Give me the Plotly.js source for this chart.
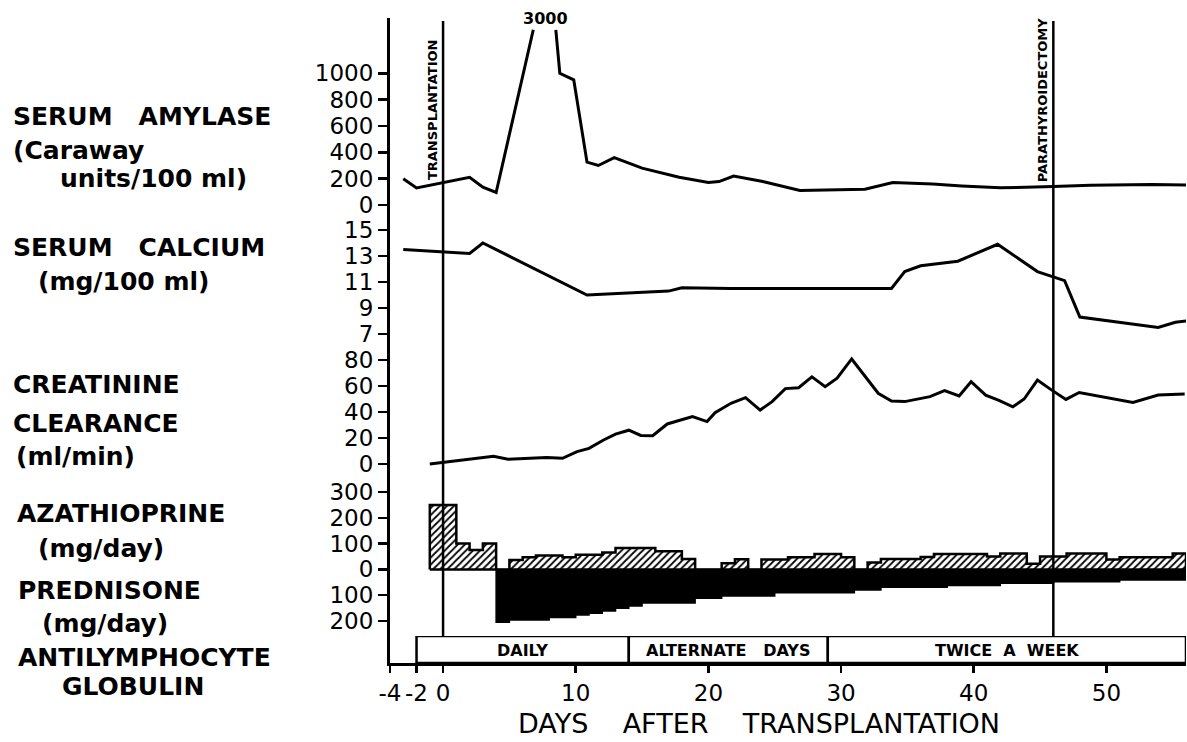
<!DOCTYPE html>
<html><head><meta charset="utf-8">
<script src="https://cdn.plot.ly/plotly-3.0.1.min.js"></script>
<style>html,body{margin:0;padding:0;background:#fff}#chart{width:1187px;height:742px}</style>
</head><body><div id="chart"></div>
<script>
// ---------------- DATA ----------------
// Serum amylase (Caraway units/100 ml); the scale is broken at the peak (3000)
const amyDay   = [-3, -2, 2, 3, 4, 6.8, 7.7, 8.5, 8.8, 9.85, 10.85, 11.7, 12.9, 15, 17.8, 20, 20.8, 21.9, 24.1, 26.9, 31.8, 33.9, 36.9, 39.1, 42, 46, 48.8, 53.4, 56];
const amyValue = [200, 130, 210, 135, 95, 1330, null, 1330, 1000, 950, 325, 300, 360, 280, 210, 170, 178, 220, 178, 110, 120, 170, 160, 145, 130, 140, 150, 155, 152];
const amyPeakDay = 7.7;
const amyPeakText = '3000';
const amyTicks = [0, 200, 400, 600, 800, 1000];

// Serum calcium (mg/100 ml)
const calDay   = [-3, 0, 2, 3, 10.85, 17, 18, 21.7, 33.8, 34.8, 36, 38.8, 41.8, 44.8, 46.85, 48, 51, 53.9, 55.2, 56];
const calValue = [13.5, 13.3, 13.2, 14.0, 10.0, 10.3, 10.55, 10.5, 10.5, 11.8, 12.25, 12.6, 13.9, 11.8, 11.1, 8.3, 7.9, 7.5, 7.9, 8.0];
const calTicks = [7, 9, 11, 13, 15];

// Creatinine clearance (ml/min)
const creDay   = [-1, 3.8, 4.9, 7.8, 9, 10.1, 11, 12.1, 13, 14, 14.9, 15.8, 16.9, 18.8, 19.9, 20.5, 21.7, 22.8, 23.9, 24.8, 25.8, 26.8, 27.8, 28.8, 29.7, 30.8, 32.8, 33.8, 34.8, 36.7, 37.8, 38.9, 39.8, 40.9, 41.9, 42.95, 43.8, 44.8, 45.8, 46.95, 47.95, 52, 53.9, 55.9];
const creValue = [0, 6, 3.6, 5, 4.4, 9.5, 12, 18.5, 23, 26, 22, 21.8, 30.8, 36.4, 32.6, 39.5, 46.7, 51, 41.5, 48, 58, 58.7, 67, 59.5, 66, 80.8, 54.4, 48.5, 48, 51.8, 56.4, 52.3, 63.3, 53, 49, 44, 50, 64.6, 57.4, 49.7, 55, 47.4, 53, 53.8];
const creTicks = [0, 20, 40, 60, 80];

// Azathioprine (mg/day), step starts
const azaStart = [-1, 1, 2, 3, 4, 5, 6, 7, 9, 10, 12, 13, 16, 18, 19, 21, 22, 23, 24, 26, 28, 30, 31, 32, 33, 36, 37, 41, 42, 44, 45, 47, 50, 51, 55];
const azaDose  = [250, 100, 75, 100, 0, 36, 47, 54, 47, 57, 66, 83, 70, 40, 0, 24, 39, 0, 38, 47, 60, 47, 0, 27, 40, 48, 60, 50, 62, 22, 50, 62, 38, 47, 62];
const azaEnd = 56;

// Prednisone (mg/day), step starts
const predStart = [4, 5, 8, 10, 11, 12, 13, 14, 15, 19, 21, 25, 31, 33, 38, 42, 46, 51];
const predDose  = [205, 196, 186, 177, 170, 161, 151, 142, 130, 112, 103, 90, 80, 69, 62, 54, 48, 41];
const predEnd = 56;
const drugTickVals = [-200, -100, 0, 100, 200, 300];
const drugTickText = ['200', '100', '0', '100', '200', '300'];

// Antilymphocyte globulin schedule
const algStart = [-2, 14, 29];
const algEnd   = [14, 29, 56];
const algLabel = ['DAILY', 'ALTERNATE\u00a0\u00a0\u00a0DAYS', 'TWICE\u00a0\u00a0A\u00a0\u00a0WEEK'];

// Events
const eventDay   = [0, 46];
const eventLabel = ['TRANSPLANTATION', 'PARATHYROIDECTOMY'];

// Day axis
const dayTickVals = [-4, -2, 0, 10, 20, 30, 40, 50];
const dayTickText = ['-4', '-2', '0', '10', '20', '30', '40', '50'];

// ---------------- LAYOUT HELPERS ----------------
const FIG_W = 1187, FIG_H = 742;
const L = 390, T = 18, PW = 796, PH = 645;
const fx = px => (px - L) / PW;
const fy = py => (T + PH - py) / PH;
const FONT = 'DejaVu Sans';

function stepPath(starts, vals, end, sign) {
  const x = [starts[0]], y = [0];
  for (let i = 0; i < starts.length; i++) { x.push(starts[i]); y.push(sign * vals[i]); }
  x.push(end); y.push(sign * vals[vals.length - 1]);
  x.push(end); y.push(0);
  x.push(starts[0]); y.push(0);
  return {x, y};
}
const aza = stepPath(azaStart, azaDose, azaEnd, 1);
const pred = stepPath(predStart, predDose, predEnd, -1);

const lineStyle = {color: 'black', width: 3};
const traces = [
  {x: amyDay, y: amyValue, yaxis: 'y', type: 'scatter', mode: 'lines', line: lineStyle, connectgaps: false, hoverinfo: 'skip'},
  {x: calDay, y: calValue, yaxis: 'y2', type: 'scatter', mode: 'lines', line: lineStyle, hoverinfo: 'skip'},
  {x: creDay, y: creValue, yaxis: 'y3', type: 'scatter', mode: 'lines', line: lineStyle, hoverinfo: 'skip'},
  {x: pred.x, y: pred.y, yaxis: 'y4', type: 'scatter', mode: 'lines', line: {color: 'black', width: 1.5, shape: 'hv'},
   fill: 'toself', fillcolor: 'black', hoverinfo: 'skip'},
  {x: aza.x, y: aza.y, yaxis: 'y4', type: 'scatter', mode: 'lines', line: {color: 'black', width: 2.5, shape: 'hv'},
   fill: 'toself', fillcolor: 'white',
   fillpattern: {shape: '/', fgcolor: 'black', bgcolor: 'white', size: 5, solidity: 0.35}, hoverinfo: 'skip'},
  {type: 'bar', orientation: 'h', yaxis: 'y5', y: algStart.map(() => 0.5),
   base: algStart, x: algStart.map((s, i) => algEnd[i] - s), width: 1,
   marker: {color: 'white', line: {color: 'black', width: 2.5}}, cliponaxis: false, hoverinfo: 'skip'}
];

const yCommon = {
  anchor: 'x', showline: true, linewidth: 3, linecolor: 'black',
  ticks: 'outside', ticklen: 9, tickwidth: 2.5, tickcolor: 'black',
  showgrid: false, zeroline: false, tickmode: 'array', ticklabelstandoff: 0,
  tickfont: {family: FONT, size: 23, color: 'black'}, fixedrange: true
};

const annotations = [];
const leftLabels = [
  ['SERUM\u00a0\u00a0\u00a0AMYLASE', 12, 116],
  ['(Caraway', 12, 150],
  ['units/100 ml)', 59, 178],
  ['SERUM\u00a0\u00a0\u00a0CALCIUM', 12, 247],
  ['(mg/100 ml)', 37, 281],
  ['CREATININE', 12, 384],
  ['CLEARANCE', 12, 423],
  ['(ml/min)', 15, 456],
  ['AZATHIOPRINE', 16, 513],
  ['(mg/day)', 37, 548],
  ['PREDNISONE', 17, 590],
  ['(mg/day)', 41, 623],
  ['ANTILYMPHOCYTE', 17, 657],
  ['GLOBULIN', 61, 687]
];
leftLabels.forEach(([t, px, py]) => annotations.push({
  text: t, xref: 'paper', yref: 'paper', x: fx(px), y: fy(py), xanchor: 'left', yanchor: 'middle',
  showarrow: false, borderpad: 0, font: {family: FONT, size: 25, weight: 'bold', color: 'black'}
}));
annotations.push({
  text: 'DAYS\u00a0\u00a0\u00a0\u00a0AFTER\u00a0\u00a0\u00a0\u00a0TRANSPLANTATION', xref: 'paper', yref: 'paper',
  x: fx(759), y: fy(723), xanchor: 'center', yanchor: 'middle', showarrow: false, borderpad: 0,
  font: {family: FONT, size: 27, color: 'black'}
});
annotations.push({
  text: amyPeakText, xref: 'x', yref: 'paper', x: amyPeakDay, y: fy(19), xanchor: 'center', yanchor: 'middle',
  showarrow: false, font: {family: FONT, size: 16, weight: 'bold', color: 'black'}
});
const eventTextY = [110, 100];
eventDay.forEach((d, i) => annotations.push({
  text: eventLabel[i], xref: 'x', yref: 'paper', x: d, xshift: -11, y: fy(eventTextY[i]),
  xanchor: 'center', yanchor: 'middle', textangle: -90, showarrow: false,
  font: {family: FONT, size: 13, weight: 'bold', color: 'black'}
}));
algStart.forEach((s, i) => annotations.push({
  text: algLabel[i], xref: 'x', yref: 'y5', x: (s + algEnd[i]) / 2, y: 0.5, yshift: -1,
  xanchor: 'center', yanchor: 'middle', showarrow: false,
  font: {family: FONT, size: 16, weight: 'bold', color: 'black'}
}));

const shapes = eventDay.map(d => ({
  type: 'line', xref: 'x', yref: 'paper', x0: d, x1: d, y0: fy(636), y1: fy(21),
  line: {color: 'black', width: 2.5}, layer: 'above'
}));

const layout = {
  width: FIG_W, height: FIG_H,
  margin: {l: L, r: FIG_W - L - PW, t: T, b: FIG_H - T - PH, pad: 0},
  paper_bgcolor: 'white', plot_bgcolor: 'white', showlegend: false,
  barmode: 'overlay',
  xaxis: {
    anchor: 'y5', domain: [0, 1], range: [-4, 56], showline: true, linewidth: 3, linecolor: 'black',
    ticks: 'outside', ticklen: 7, tickwidth: 2.5, tickcolor: 'black', tickmode: 'array',
    tickvals: dayTickVals, ticktext: dayTickText, tickangle: 0, ticklabelstandoff: 0,
    tickfont: {family: FONT, size: 23, color: 'black'}, showgrid: false, zeroline: false, fixedrange: true
  },
  yaxis:  Object.assign({}, yCommon, {domain: [fy(217), 1], range: [-91.1, 1419.4], tickvals: amyTicks}),
  yaxis2: Object.assign({}, yCommon, {domain: [fy(347), fy(217)], range: [6, 16], tickvals: calTicks}),
  yaxis3: Object.assign({}, yCommon, {domain: [fy(478), fy(347)], range: [-10.77, 90], tickvals: creTicks}),
  yaxis4: Object.assign({}, yCommon, {domain: [fy(636), fy(478)], range: [-258.1, 354.3], tickvals: drugTickVals, ticktext: drugTickText}),
  yaxis5: Object.assign({}, yCommon, {domain: [0, fy(636)], range: [0, 1], ticks: '', showticklabels: false, tickvals: []}),
  annotations: annotations,
  shapes: shapes
};

Plotly.newPlot('chart', traces, layout, {staticPlot: true, displayModeBar: false});
</script>
</body></html>
